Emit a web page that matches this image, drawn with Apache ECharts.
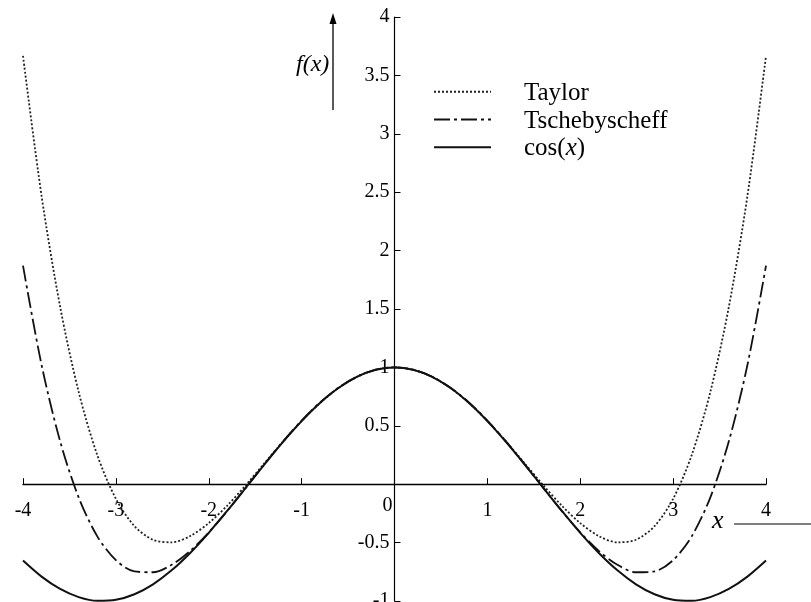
<!DOCTYPE html>
<html>
<head>
<meta charset="utf-8">
<script src="https://cdn.jsdelivr.net/npm/echarts@6/dist/echarts.min.js"></script>
<style>
  html, body { margin: 0; padding: 0; background: #fff; }
  #chart { width: 811px; height: 602px; }
</style>
</head>
<body>
<div id="chart"></div>
<script>
// Sample points on the x axis
var xs = [-4, -3.8, -3.6, -3.4, -3.2, -3, -2.8, -2.6, -2.4, -2.2, -2, -1.8, -1.6, -1.4, -1.2, -1, -0.8, -0.6, -0.4, -0.2,
          0, 0.2, 0.4, 0.6, 0.8, 1, 1.2, 1.4, 1.6, 1.8, 2, 2.2, 2.4, 2.6, 2.8, 3, 3.2, 3.4, 3.6, 3.8, 4];

// Taylor polynomial of degree 4
var taylorVals = [3.6667, 2.4681, 1.5184, 0.7881, 0.2491, -0.125, -0.3589, -0.4759, -0.4976, -0.4439, -0.3333, -0.1826, -0.0069, 0.1801, 0.3664, 0.5417, 0.6971, 0.8254, 0.9211, 0.9801,
                  1, 0.9801, 0.9211, 0.8254, 0.6971, 0.5417, 0.3664, 0.1801, -0.0069, -0.1826, -0.3333, -0.4439, -0.4976, -0.4759, -0.3589, -0.125, 0.2491, 0.7881, 1.5184, 2.4681, 3.6667];

// Tschebyscheff approximation of degree 4
var tschVals = [1.8707, 1.0206, 0.3669, -0.1145, -0.4464, -0.6503, -0.7466, -0.754, -0.6902, -0.5715, -0.4129, -0.2281, -0.0295, 0.1719, 0.3661, 0.5449, 0.7009, 0.8283, 0.9226, 0.9805,
                1, 0.9805, 0.9226, 0.8283, 0.7009, 0.5449, 0.3661, 0.1719, -0.0295, -0.2281, -0.4129, -0.5715, -0.6902, -0.754, -0.7466, -0.6503, -0.4464, -0.1145, 0.3669, 1.0206, 1.8707];

// cos(x)
var cosVals = [-0.6536, -0.791, -0.8968, -0.9668, -0.9983, -0.99, -0.9422, -0.8569, -0.7374, -0.5885, -0.4161, -0.2272, -0.0292, 0.17, 0.3624, 0.5403, 0.6967, 0.8253, 0.9211, 0.9801,
               1, 0.9801, 0.9211, 0.8253, 0.6967, 0.5403, 0.3624, 0.17, -0.0292, -0.2272, -0.4161, -0.5885, -0.7374, -0.8569, -0.9422, -0.99, -0.9983, -0.9668, -0.8968, -0.791, -0.6536];

var seriesNames = ['Taylor', 'Tschebyscheff', 'cos(x)'];

// Axis ranges and tick steps
var xRange = [-4, 4], xStep = 1;
var yRange = [-1, 4], yStep = 0.5;

function pairs(vals) {
  return xs.map(function (x, i) { return [x, vals[i]]; });
}

var serif = '"Liberation Serif", "Times New Roman", serif';

var chart = echarts.init(document.getElementById('chart'), null, { renderer: 'canvas' });

var option = {
  animation: false,
  backgroundColor: '#fff',
  grid: { left: 23, right: 45, top: 17, bottom: 1, containLabel: false, outerBoundsMode: 'none' },
  xAxis: {
    type: 'value', min: xRange[0], max: xRange[1], interval: xStep,
    axisLine: { onZero: false, lineStyle: { color: '#000', width: 1.4 } },
    axisTick: { show: true, inside: true, length: 6, lineStyle: { color: '#000', width: 1 } },
    splitLine: { show: false },
    axisLabel: {
      color: '#000', fontFamily: serif, fontSize: 20, margin: 17,
      showMinLabel: true, showMaxLabel: true,
      formatter: function (v) { return v === 0 ? '{z|0}' : String(v); },
      rich: { z: { fontFamily: serif, fontSize: 20, lineHeight: 10, color: '#000', padding: [0, 14, 0, 0] } }
    }
  },
  yAxis: {
    type: 'value', min: yRange[0], max: yRange[1], interval: yStep,
    axisLine: { onZero: false, lineStyle: { color: '#000', width: 1.2 } },
    axisTick: { show: true, inside: true, length: 6, lineStyle: { color: '#000', width: 1 } },
    splitLine: { show: false },
    axisLabel: {
      color: '#000', fontFamily: serif, fontSize: 20, margin: 5,
      showMinLabel: true, showMaxLabel: true,
      formatter: function (v) { return v === 0 ? '' : String(v); }
    }
  },
  legend: {
    orient: 'vertical', left: 428, top: 73,
    itemWidth: 57, itemHeight: 14, itemGap: 0,
    data: seriesNames,
    itemStyle: { opacity: 0, borderWidth: 0 },
    formatter: function (n) { return n === 'cos(x)' ? 'cos({i|x})' : n; },
    textStyle: {
      color: '#000', fontFamily: serif, fontSize: 25, lineHeight: 24.5, padding: [3, 0, 0, 28],
      rich: { i: { fontFamily: serif, fontStyle: 'italic', fontSize: 25, lineHeight: 24.5, color: '#000' } }
    }
  },
  series: [
    {
      name: seriesNames[0], type: 'line', data: pairs(taylorVals), smooth: 0.3, symbol: 'none',
      lineStyle: { color: '#222', width: 1.8, type: [2, 2] }, itemStyle: { color: '#222' }
    },
    {
      name: seriesNames[1], type: 'line', data: pairs(tschVals), smooth: 0.3, symbol: 'none',
      lineStyle: { color: '#111', width: 1.8, type: [16, 4, 3, 4] }, itemStyle: { color: '#111' }
    },
    {
      name: seriesNames[2], type: 'line', data: pairs(cosVals), smooth: 0.3, symbol: 'none',
      lineStyle: { color: '#111', width: 2 }, itemStyle: { color: '#111' }
    }
  ],
  graphic: [
    // f(x) label with upward arrow
    { type: 'text', left: 296, top: 53, style: { text: 'f(x)', fontFamily: serif, fontStyle: 'italic', fontSize: 24, fill: '#000' } },
    { type: 'line', shape: { x1: 333, y1: 110, x2: 333, y2: 22 }, style: { stroke: '#000', lineWidth: 1.3 } },
    { type: 'polygon', shape: { points: [[333, 13], [329.5, 24], [336.5, 24]] }, style: { fill: '#000' } },
    // x label with line
    { type: 'text', left: 712, top: 508, style: { text: 'x', fontFamily: serif, fontStyle: 'italic', fontSize: 26, fill: '#000' } },
    { type: 'line', shape: { x1: 734, y1: 524, x2: 811, y2: 524 }, style: { stroke: '#000', lineWidth: 1.2 } }
  ]
};

chart.setOption(option);

// Move both axes (line, ticks and labels) so they cross at the origin
var origin = chart.convertToPixel({ gridIndex: 0 }, [0, 0]);
var corner = chart.convertToPixel({ gridIndex: 0 }, [xRange[0], yRange[0]]);
chart.setOption({
  xAxis: { offset: origin[1] - corner[1] },
  yAxis: { offset: corner[0] - origin[0] }
});
</script>
</body>
</html>
